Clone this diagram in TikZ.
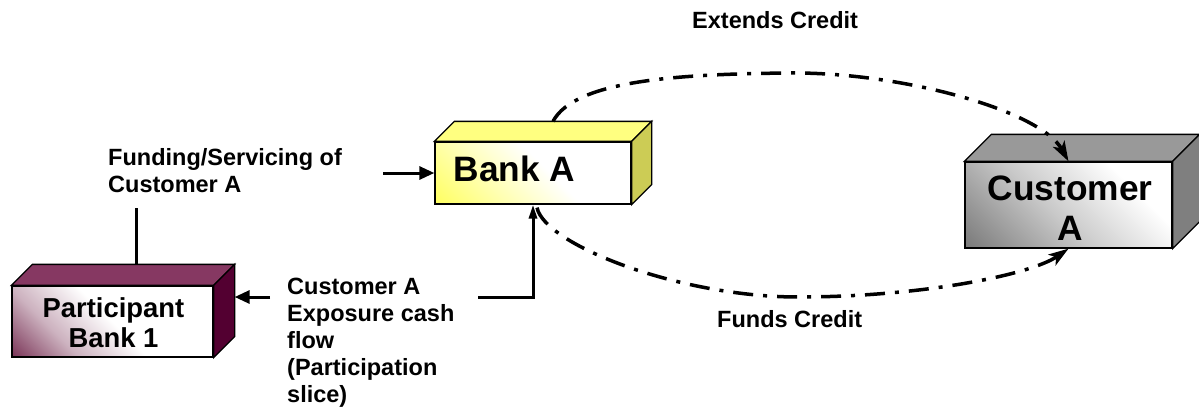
\documentclass[tikz,border=0pt]{standalone}
\usepackage{fontspec}
\setmainfont{Liberation Sans}
\usetikzlibrary{arrows.meta,calc}

\definecolor{bankTop}{HTML}{FFFF80}
\definecolor{bankSide}{HTML}{CCCC55}
\definecolor{bankFront}{HTML}{FFFF55}
\definecolor{custTop}{HTML}{999999}
\definecolor{custSide}{HTML}{7F7F7F}
\definecolor{custFront}{HTML}{7A7A7A}
\definecolor{partTop}{HTML}{863862}
\definecolor{partSide}{HTML}{530031}
\definecolor{partFront}{HTML}{6E2248}

% front-face shadings: white over most of the face, colour towards one corner
\pgfdeclareverticalshading{bankshade}{100bp}{color(0bp)=(white); color(45bp)=(white);
  color(65bp)=(bankFront!45!white); color(88bp)=(bankFront); color(100bp)=(bankFront)}
\pgfdeclareverticalshading{custshade}{100bp}{color(0bp)=(white); color(30bp)=(white);
  color(55bp)=(custFront!40!white); color(85bp)=(custFront); color(100bp)=(custFront)}
\pgfdeclareverticalshading{partshade}{100bp}{color(0bp)=(white); color(50bp)=(white);
  color(68bp)=(partFront!35!white); color(88bp)=(partFront); color(100bp)=(partFront)}

\tikzset{
  frontface/.style={draw=black, line width=1.3pt, inner sep=0pt,
    shading=#1, shading angle=135},
  faceedge/.style={draw=black, line width=1.3pt, line join=miter},
  lbl/.style={font=\fontsize{23.5}{27}\selectfont\bfseries, inner sep=0pt,
    align=left, anchor=base west},
  bigtxt/.style={font=\fontsize{35.3}{40}\selectfont\bfseries, inner sep=0pt,
    align=center, anchor=base},
  midtxt/.style={font=\fontsize{27.4}{30}\selectfont\bfseries, inner sep=0pt,
    align=center, anchor=base},
  flow/.style={line width=3pt},
  harrow/.style={flow, -{Triangle[length=15pt,width=13pt]}},
  varrow/.style={flow, -{Triangle[length=14pt,width=8pt]}},
  credit/.style={line width=3.5pt, dash pattern=on 20pt off 10pt on 4pt off 10pt,
    -{Stealth[length=20pt,width=13pt,inset=5pt]}},
}

% top and side faces of a cuboid whose front face is node #1, depth #2
\newcommand\cuboidfaces[4]{%
  \path[faceedge, fill=#3] (#1.north west) -- ++(#2,-#2)
    -- ($(#1.north east)+(#2,-#2)$) -- (#1.north east) -- cycle;
  \path[faceedge, fill=#4] (#1.north east) -- ++(#2,-#2)
    -- ($(#1.south east)+(#2,-#2)$) -- (#1.south east) -- cycle;
}

\begin{document}
\begin{tikzpicture}[x=1pt, y=-1pt]
  \useasboundingbox (0,0) rectangle (1199,410);

  % front faces
  \node[frontface=bankshade, minimum width=196pt, minimum height=62pt] (bankA) at (533,173) {};
  \node[frontface=custshade, minimum width=207pt, minimum height=86pt] (custA) at (1068.5,205) {};
  \node[frontface=partshade, minimum width=201pt, minimum height=71pt] (part) at (112.5,321.5) {};

  % cuboid top and side faces
  \cuboidfaces{bankA}{20}{bankTop}{bankSide}
  \cuboidfaces{custA}{27}{custTop}{custSide}
  \cuboidfaces{part}{21}{partTop}{partSide}

  % free ends of connectors and back edges of the cuboids
  \coordinate (fundIn) at (383,173);
  \coordinate (fundBar) at (136,208);
  \coordinate (expL) at (270,297);
  \coordinate (expR) at (478,297);
  \coordinate (partBack) at ($(part.north east)+(21,-21)$);
  \coordinate (bankTopMid) at ($(bankA.north)+(20,-20)$);

  % connectors
  \draw[harrow] (fundIn) -- (bankA.west);
  \draw[flow] (fundBar) -- (fundBar |- partBack);
  \draw[harrow] (expL) -- (expL -| partBack);
  \draw[varrow] (expR) -| (bankA.south);

  \draw[credit] (bankTopMid) .. controls (575,80) and (680,74) .. (790,73)
    .. controls (900,72) and (1040,110) .. (custA.north);
  \draw[credit] ($(bankA.south)+(4,3)$) .. controls (545,245) and (680,297) .. (798,297)
    .. controls (920,297) and (1030,275) .. (custA.south);

  % box captions (base anchor sits on the last line)
  \node[bigtxt] (bankAtxt) at (514.5,181) {Bank A};
  \node[bigtxt] (custAtxt) at (1070,240) {Customer\\A};
  \node[midtxt] (parttxt) at (113.5,347) {Participant\\Bank 1};

  % labels
  \node[lbl] (extends) at (692,28) {Extends Credit};
  \node[lbl] (funds) at (717,327) {Funds Credit};
  \node[lbl] (funding) at (108,192) {Funding/Servicing of\\Customer A};
  \node[lbl] (exposure) at (287,402) {Customer A\\Exposure cash\\flow\\(Participation\\slice)};
\end{tikzpicture}
\end{document}
